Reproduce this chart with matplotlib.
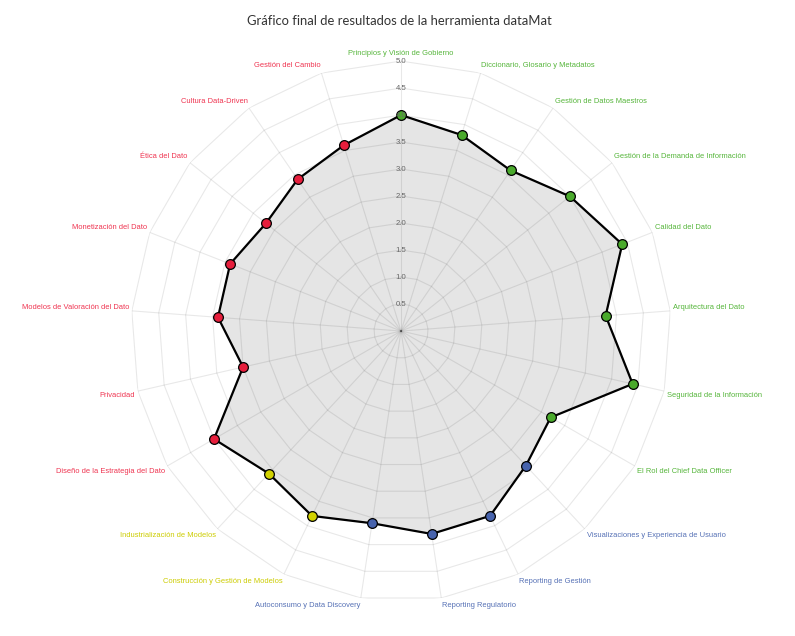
import numpy as np
import matplotlib
matplotlib.use('Agg')
import matplotlib.pyplot as plt

# ejes del radar (en orden horario desde arriba)
categorias = [
    "Principios y Visión de Gobierno",
    "Diccionario, Glosario y Metadatos",
    "Gestión de Datos Maestros",
    "Gestión de la Demanda de Información",
    "Calidad del Dato",
    "Arquitectura del Dato",
    "Seguridad de la Información",
    "El Rol del Chief Data Officer",
    "Visualizaciones y Experiencia de Usuario",
    "Reporting de Gestión",
    "Reporting Regulatorio",
    "Autoconsumo y Data Discovery",
    "Construcción y Gestión de Modelos",
    "Industrialización de Modelos",
    "Diseño de la Estrategia del Dato",
    "Privacidad",
    "Modelos de Valoración del Dato",
    "Monetización del Dato",
    "Ética del Dato",
    "Cultura Data-Driven",
    "Gestión del Cambio",
]
valores = [4.0, 3.8, 3.6, 4.0, 4.4, 3.8, 4.4, 3.2, 3.4, 3.8, 3.8,
           3.6, 3.8, 3.6, 4.0, 3.0, 3.4, 3.4, 3.2, 3.4, 3.6]
# grupo de cada eje -> color
grupos = ["g"] * 8 + ["b"] * 4 + ["y"] * 2 + ["r"] * 7
ticks = [0.5, 1.0, 1.5, 2.0, 2.5, 3.0, 3.5, 4.0, 4.5, 5.0]

colores = {"g": "#4aaa2c", "b": "#4763ad", "y": "#d2d200", "r": "#e61e3c"}
colores_txt = {"g": "#55b53a", "b": "#5570b5", "y": "#cccc00", "r": "#ef3450"}

n = len(categorias)
ang = np.arange(n) * 2 * np.pi / n

fig = plt.figure(figsize=(7.95, 6.36), dpi=100)
ax = fig.add_axes([0.1648, 0.055, 0.6793, 0.849], projection='polar')
ax.set_theta_zero_location('N')
ax.set_theta_direction(-1)
ax.set_ylim(0, 5)
ax.grid(False)
ax.set_xticks([])
ax.set_yticks([])
ax.spines['polar'].set_visible(False)
ax.patch.set_alpha(0)

# relleno y linea
ang_c = np.append(ang, ang[0])
val_c = np.append(valores, valores[0])
ax.fill(ang_c, val_c, color='#e5e5e5', zorder=1)

# telarana poligonal
for t in ticks:
    ax.plot(ang_c, [t] * (n + 1), color='black', alpha=0.09, lw=0.8, zorder=2)
for a in ang:
    ax.plot([a, a], [0, 5], color='black', alpha=0.09, lw=0.8, zorder=2)

ax.plot(ang_c, val_c, color='black', lw=1.6, zorder=3)
for a, v, g in zip(ang, valores, grupos):
    ax.plot(a, v, 'o', ms=7, mfc=colores[g], mec='black', mew=0.9, zorder=4)

# etiquetas de la escala
for t in ticks:
    ax.text(0, t, f"{t:.1f}", ha='center', va='center', fontsize=5.6,
            color='#666666', family='Liberation Sans', zorder=5)

# etiquetas de los ejes
for a, c, g in zip(ang, categorias, grupos):
    s, co = np.sin(a), np.cos(a)
    if abs(s) < 1e-6:
        ha = 'center'
    elif s > 0:
        ha = 'left'
    else:
        ha = 'right'
    va = 'bottom' if co > 0 else 'top'
    ax.annotate(c, xy=(a, 5), xytext=(2 * s, 3 * co), textcoords='offset points',
                ha=ha, va=va, fontsize=5.45, color=colores_txt[g],
                family='Liberation Sans', annotation_clip=False)

fig.text(0.502, 0.967, "Gráfico final de resultados de la herramienta dataMat",
         ha='center', va='center', fontsize=9.4, color='#333333', family='Lato')

fig.savefig('out.png', dpi=100)
